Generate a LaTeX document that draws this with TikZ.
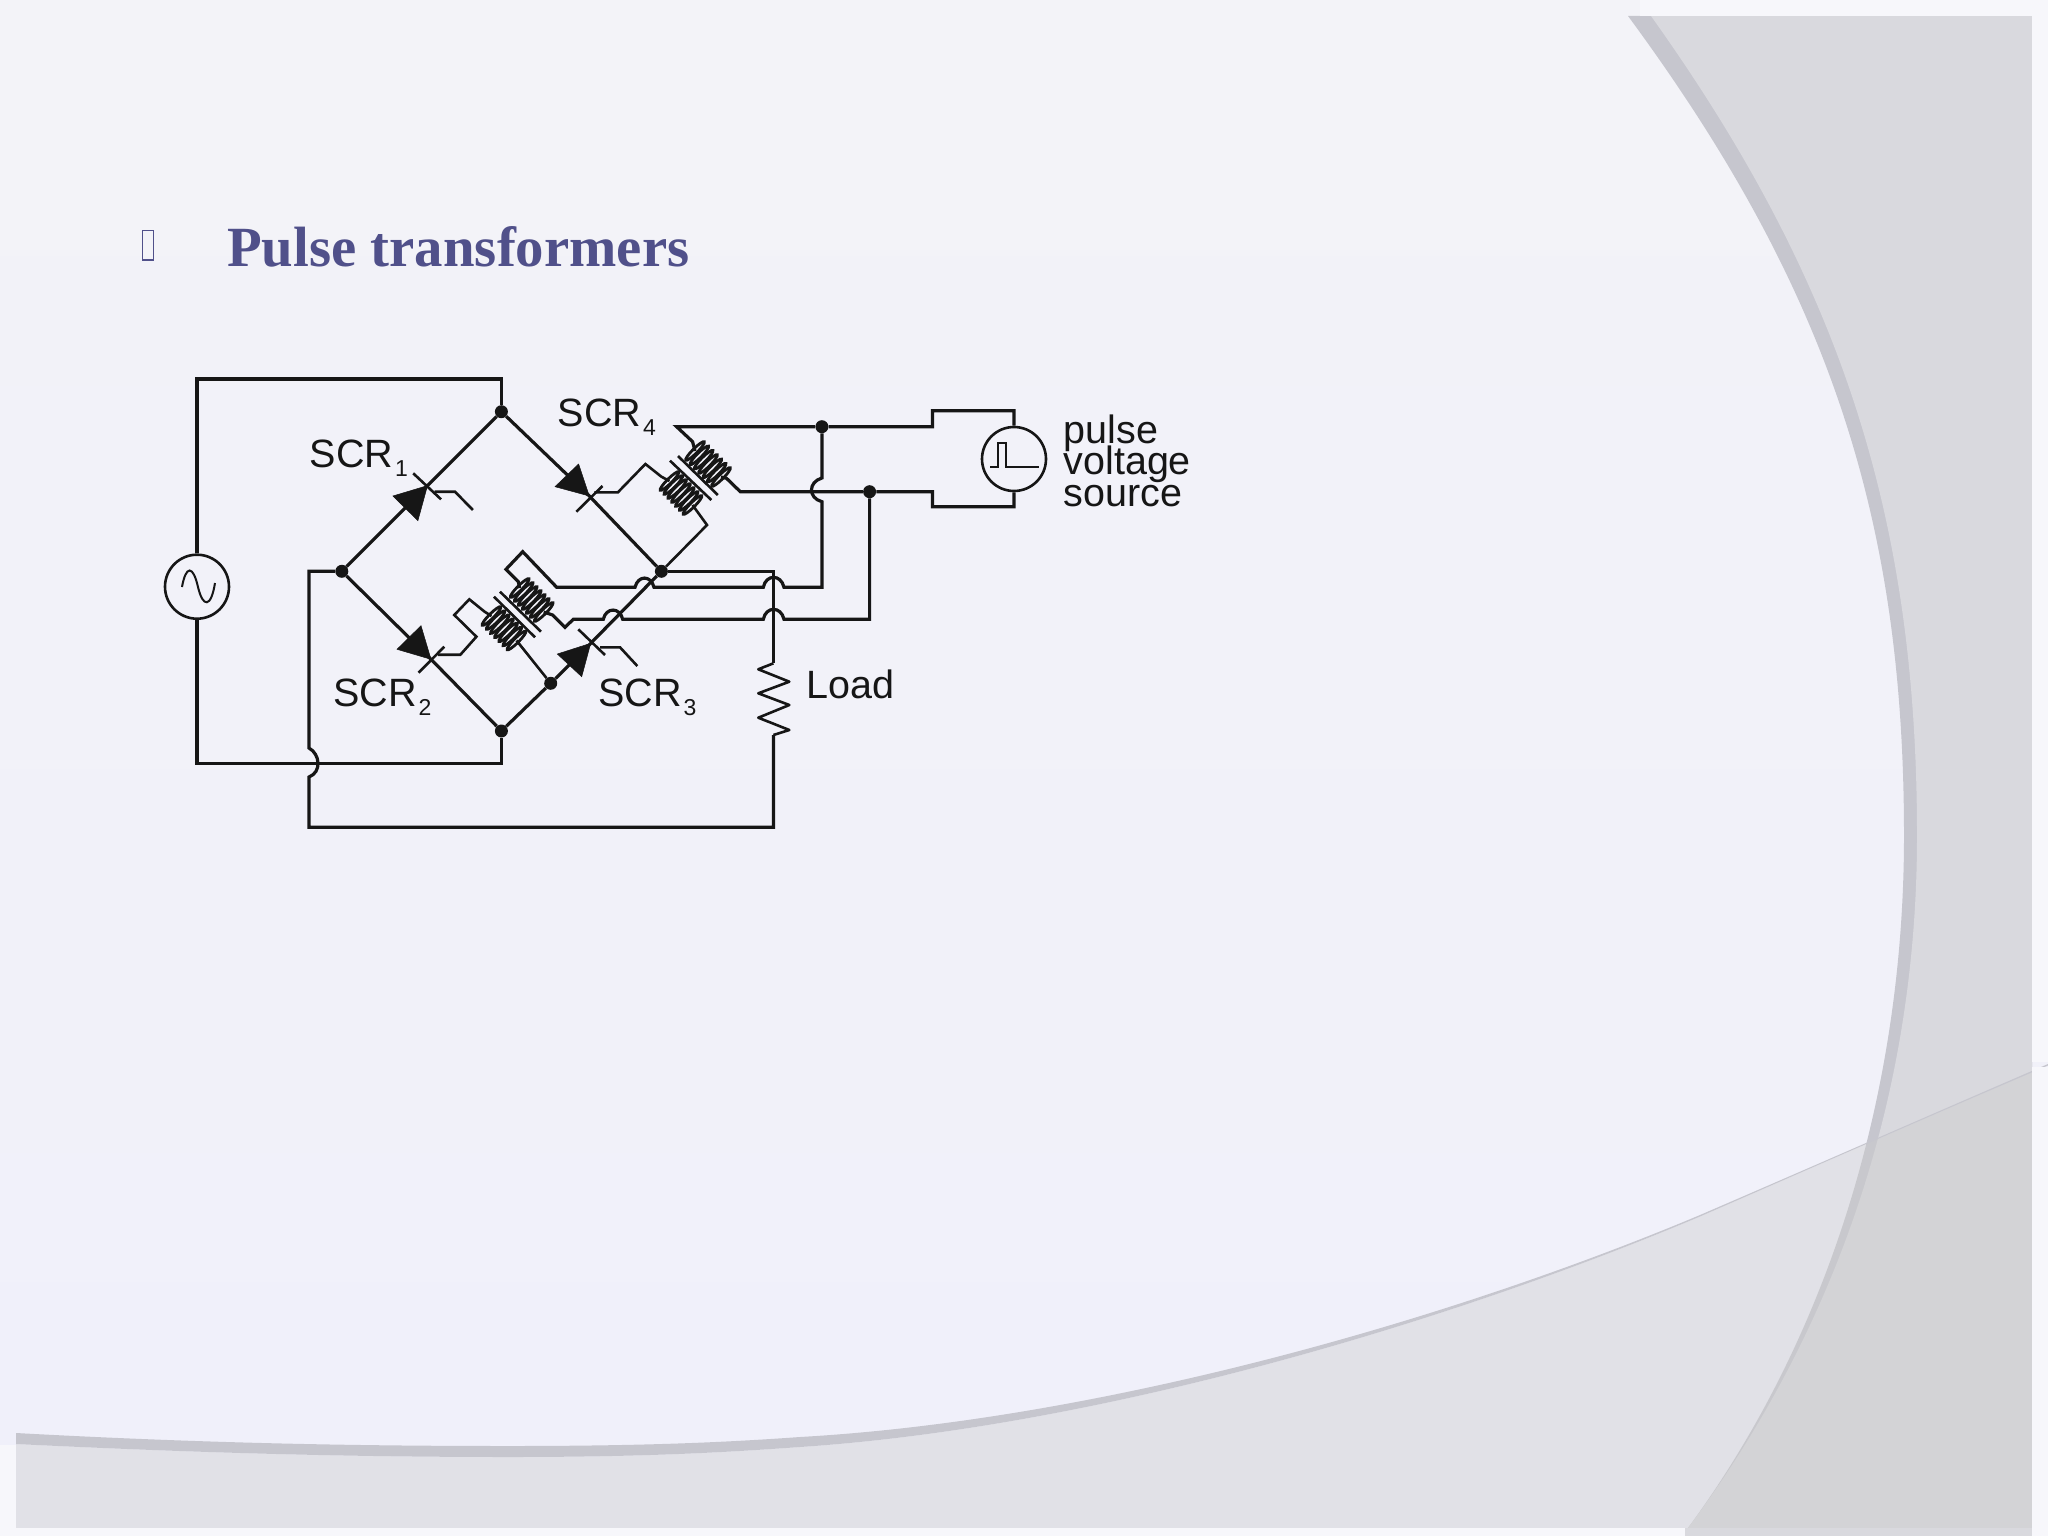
\documentclass[tikz,border=0pt]{standalone}
\usepackage{fontspec}
\usetikzlibrary{calc}
\newfontfamily\sansf{Liberation Sans}
\newfontfamily\serf{Liberation Serif}
\definecolor{bgtop}{HTML}{F3F3F8}
\definecolor{bgbot}{HTML}{F0F0FA}
\definecolor{margc}{HTML}{F7F7FB}
\definecolor{rightc}{HTML}{D9D9DE}
\definecolor{bandc}{HTML}{C6C6CE}
\definecolor{botc}{HTML}{CDCDCD}
\definecolor{titlec}{HTML}{50508A}
\definecolor{inkc}{HTML}{161616}
\newcommand{\tightlines}{\lineskiplimit=-100pt\relax}
\tikzset{
  wire/.style={draw=inkc,line width=3.2pt,line join=miter},
  thin wire/.style={draw=inkc,line width=2.6pt},
  jdot/.style={circle,fill=inkc,inner sep=0pt,minimum size=13pt},
  source/.style={circle,draw=inkc,line width=2.6pt,inner sep=0pt,minimum size=64pt},
  lbl/.style={font=\sansf\fontsize{39.5}{39.5}\selectfont,text=inkc,inner sep=0pt,anchor=base west},
  scrhead/.style={fill=inkc,draw=inkc,line width=0.5pt,line join=miter},
  turn/.style={draw=inkc,line width=2.8pt},
}
\newcommand{\SCRlabel}[1]{SCR\kern2pt\raisebox{-9pt}{\fontsize{23}{23}\selectfont #1}}
% row of seven tilted winding turns along a coil axis
\newcommand{\coilrow}[2]{%
  \foreach \t in {0,0.1667,0.3333,0.5,0.6667,0.8333,1}{%
    \draw[turn,shift={($(#1)!\t!(#2)$)},rotate=-45] (0,0) ellipse [x radius=2.4pt,y radius=13pt];%
  }%
}
\begin{document}
\begin{tikzpicture}[x=1pt,y=-1pt]
\useasboundingbox (0,0) rectangle (2048,1536);
% ---- slide background
\shade[top color=bgtop,bottom color=bgbot] (0,0) rectangle (2048,1536);
% right-hand sweep
\fill[bandc] (1628,16) .. controls (1830,290) and (1904,520) .. (1904,836)
  .. controls (1904,1080) and (1835,1330) .. (1685,1532)
  -- (1685,1528) -- (2032,1528) -- (2032,16) -- cycle;
\fill[rightc] (1651,16) .. controls (1843,285) and (1917,520) .. (1917,836)
  .. controls (1917,1080) and (1845,1320) .. (1685,1532)
  -- (1685,1528) -- (2032,1528) -- (2032,16) -- cycle;
% bottom sweep
\fill[botc,fill opacity=.42] (16,1444) .. controls (200,1453) and (350,1457) .. (510,1457)
  .. controls (650,1457) and (730,1452) .. (800,1447)
  .. controls (1100,1427) and (1450,1322) .. (1700,1216.5)
  .. controls (1816,1166) and (1932,1115) .. (2032,1072)
  -- (2032,1528) -- (16,1528) -- cycle;
\fill[bandc] (16,1433) .. controls (200,1443) and (350,1446) .. (510,1446)
  .. controls (650,1446) and (730,1442) .. (800,1437)
  .. controls (1100,1420) and (1450,1320) .. (1700,1215)
  .. controls (1816,1165) and (1932,1114) .. (2048,1064)
  -- (2048,1065.5) .. controls (1932,1115) and (1816,1166) .. (1700,1216.5)
  .. controls (1450,1322) and (1100,1427) .. (800,1447)
  .. controls (730,1452) and (650,1457) .. (510,1457)
  .. controls (350,1457) and (200,1453) .. (16,1444) -- cycle;
% margins of the slide picture
\fill[margc] (2032,0) rectangle (2048,1062);
\fill[margc] (2032,1067) rectangle (2048,1536);
\fill[margc] (1640,0) rectangle (2048,16);
\fill[margc] (0,1528) rectangle (1685,1536);
\fill[margc] (0,1445) rectangle (16,1536);
\fill[rightc] (1685,1528) rectangle (2032,1536);
% ---- title
\draw[titlec,line width=1.4pt] (142.5,230.5) rectangle (153.5,260);
\node[font=\serf\bfseries\fontsize{56.8}{56.8}\selectfont,text=titlec,inner sep=0pt,anchor=base west] (title) at (227,266.7) {Pulse transformers};
% ---- nodes of the bridge
\node[jdot] (T) at (501.4,411.7) {};
\node[jdot] (L) at (341.8,571.3) {};
\node[jdot] (R) at (661.4,571.3) {};
\node[jdot] (B) at (501.4,731) {};
\node[jdot] (G3) at (550.7,683.3) {};
\node[jdot] (P1) at (821.9,426.7) {};
\node[jdot] (P2) at (869.6,491.7) {};
\node[source] (ac) at (197,586.7) {};
\node[source] (pulse) at (1014,459) {};
% SCR cathode/anode crossing points
\coordinate (K1) at (427.5,485.6);
\coordinate (K4) at (589.3,496);
\coordinate (K2) at (431,659.3);
\coordinate (K3) at (590.7,643.3);
% bridge arms
\draw[wire] (L) -- (K1) -- (T);
\draw[wire] (T) -- (K4) -- (R);
\draw[wire] (L) -- (K2) -- (B);
\draw[wire] (B) -- (G3) -- (K3) -- (R);
% SCR heads
\fill[scrhead] (K1) -- (392.9,496) -- (417.9,520.7) -- cycle;
\draw[thin wire] (413.2,473.3) -- (441,499.3);
\draw[thin wire] (434.6,491.7) -- (455,491.7) -- (472.9,510);
\fill[scrhead] (K4) -- (555,486.7) -- (578.6,464) -- cycle;
\draw[thin wire] (576.4,511.7) -- (602.5,486);
\fill[scrhead] (K2) -- (397,649.3) -- (421,625.7) -- cycle;
\draw[thin wire] (418.6,672.7) -- (444.3,646.7);
\fill[scrhead] (K3) -- (557.3,654) -- (581.7,676.7) -- cycle;
\draw[thin wire] (578.3,629.3) -- (605,655);
\draw[thin wire] (600,647.3) -- (620,647.3) -- (637.3,666);
% supply
\coordinate (TL) at (197,379);
\coordinate (BL) at (197,763.3);
\draw[wire] (ac) -- (TL) -| (T);
\draw[wire] (ac) -- (BL) -| (B);
% load
\coordinate (RD) at (773.4,571.3);
\coordinate (Rtop) at (773.4,663.3);
\coordinate (Rbot) at (773.4,735);
\coordinate (LB) at (773.4,827.3);
\coordinate (LL) at (309,827.3);
\draw[wire] (R) -- (RD) -- (Rtop);
\draw[thin wire,line join=round] (Rtop) -- (758.3,669.3) -- (789.3,681.7) -- (758.3,693.3) -- (789.3,705) -- (758.3,717.7) -- (789.3,730) -- (Rbot);
\draw[wire] (Rbot) -- (LB) -- (LL) -- (309,777) .. controls (322,772) and (320,754) .. (309,748) -- (309,571.3) -- (L);
% transformer T4 (upper right)
\coordinate (A4a) at (695,451); \coordinate (A4b) at (721,477);
\coordinate (A4c) at (669.5,481); \coordinate (A4d) at (692.5,505);
\coilrow{A4a}{A4b}
\coilrow{A4c}{A4d}
\draw[thin wire] (670,460.7) -- (711.3,500);
\draw[thin wire] (678,456) -- (717.8,495);
\coordinate (S4) at (676.6,426.7);
\coordinate (Q4) at (740.3,491.7);
\coordinate (PT) at (932.5,426.7);
\coordinate (PB) at (932.5,491.7);
\draw[wire] (A4a) -- (692.6,441.7) -- (S4) -- (P1) -- (PT) -- (932.5,410.7) -| (pulse);
\draw[wire] (A4b) -- (726.5,478.3) -- (Q4) -- (P2) -- (PB) -- (932.5,506.7) -| (pulse);
\draw[thin wire] (594.3,492.3) -- (617.9,492.3) -- (645.4,464) -- (661.4,476.7) -- (A4c);
\draw[thin wire] (A4d) -- (707,525) -- (R);
% transformer T2 (lower left)
\coordinate (A2a) at (519.7,588); \coordinate (A2b) at (543.7,612);
\coordinate (A2c) at (491.5,616); \coordinate (A2d) at (516.5,640.5);
\coilrow{A2a}{A2b}
\coilrow{A2c}{A2d}
\draw[thin wire] (494,596.7) -- (535,637.3);
\draw[thin wire] (500,591.7) -- (541,631.7);
\draw[thin wire] (438,654.7) -- (460.4,654.7) -- (476.4,636.7) -- (454.3,615) -- (469.3,599.3) -- (484.6,611.7) -- (A2c);
\draw[thin wire] (A2d) -- (G3);
% trigger wiring with hops
\coordinate (W1) at (821.9,587.3);
\coordinate (W2) at (869.6,619.3);
\draw[wire] (A2a) -- (518.3,581.7) -- (506,569.3) -- (522.7,551.7) -- (556.7,587.3) -- (635,587.3)
  .. controls (638,575) and (651,575) .. (654,587.3) -- (763.3,587.3)
  .. controls (766,574) and (781,574) .. (784,587.3) -- (W1)
  -- (821.9,501.7) .. controls (808,498) and (808,482) .. (821.9,478) -- (P1);
\draw[wire] (A2b) -- (552.7,615) -- (565,627.3) -- (573.3,619.3) -- (603.3,619.3)
  .. controls (606,607) and (620,607) .. (622.7,619.3) -- (763.3,619.3)
  .. controls (766,606) and (781,606) .. (784,619.3) -- (W2) -- (P2);
% symbols inside the sources
\draw[thin wire,line width=2pt] (182,587) .. controls (186,565) and (193,565) .. (198,587) .. controls (203,608) and (211,608) .. (215,583);
\draw[thin wire,line width=2pt] (990,467.3) -- (997.5,467.3) -- (997.5,443.3) -- (1006,443.3) -- (1006,467.3) -- (1038.7,467.3);
% labels
\node[lbl] (scr1) at (309.5,467.3) {\SCRlabel{1}};
\node[lbl] (scr4) at (557.5,426.7) {\SCRlabel{4}};
\node[lbl] (scr2) at (333,706.7) {\SCRlabel{2}};
\node[lbl] (scr3) at (598,706.7) {\SCRlabel{3}};
\node[lbl] (load) at (806,698) {Load};
\node[font=\sansf\fontsize{39.5}{31.6}\selectfont\tightlines,text=inkc,inner sep=0pt,anchor=north west,align=left] (plabel) at (1063.4,414.5) {pulse\\voltage\\source};
\end{tikzpicture}
\end{document}
